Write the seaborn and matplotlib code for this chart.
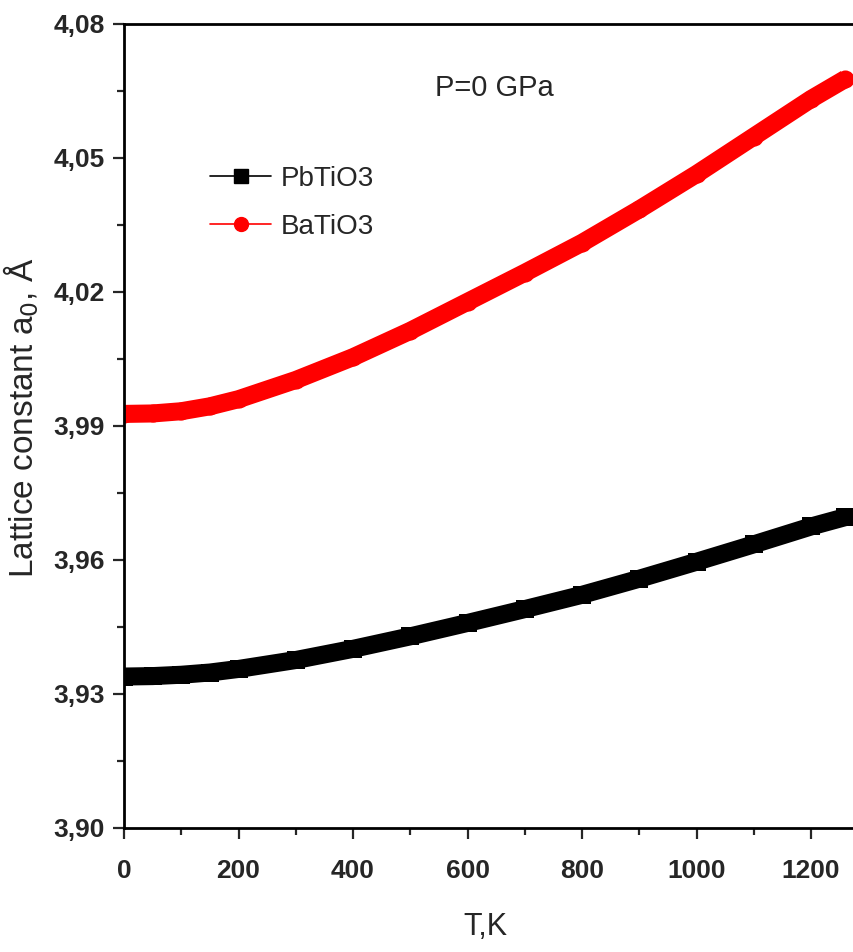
import matplotlib
matplotlib.use('Agg')
import matplotlib.pyplot as plt
from matplotlib.lines import Line2D
from matplotlib.ticker import MultipleLocator, FuncFormatter
import seaborn as sns
import pandas as pd

# Données
temperature = [0, 50, 100, 150, 200, 300, 400, 500, 600, 700, 800, 900, 1000, 1100, 1200, 1260]
a0_pbtio3 = [3.9339, 3.9340, 3.9343, 3.9348, 3.9356, 3.9376, 3.9401, 3.9429, 3.9459, 3.9490,
             3.9522, 3.9558, 3.9596, 3.9635, 3.9675, 3.9696]
a0_batio3 = [3.9927, 3.9928, 3.9933, 3.9944, 3.9960, 4.0003, 4.0054, 4.0113, 4.0178, 4.0243,
             4.0310, 4.0385, 4.0464, 4.0548, 4.0632, 4.0677]
series_names = ['PbTiO3', 'BaTiO3']
series_colors = ['black', 'red']
series_markers = ['s', 'o']

sns.set_style('ticks')
plt.rcParams['font.family'] = ['Liberation Sans', 'DejaVu Sans']

fig = plt.figure(figsize=(8.54, 9.52), dpi=100)
ax = fig.add_axes([0.1452, 0.1303, 0.8548, 0.8445])

df = pd.DataFrame({
    'T': temperature * 2,
    'a0': a0_pbtio3 + a0_batio3,
    'serie': [series_names[0]] * len(temperature) + [series_names[1]] * len(temperature),
})

for name, color, marker in zip(series_names, series_colors, series_markers):
    sub = df[df['serie'] == name]
    sns.lineplot(data=sub, x='T', y='a0', ax=ax, color=color, linewidth=13,
                 marker=marker, markersize=13, markeredgewidth=0,
                 solid_capstyle='butt', legend=False)

ax.set_xlim(0, 1275)
ax.set_ylim(3.90, 4.08)
ax.xaxis.set_major_locator(MultipleLocator(200))
ax.xaxis.set_minor_locator(MultipleLocator(100))
ax.yaxis.set_major_locator(MultipleLocator(0.03))
ax.yaxis.set_minor_locator(MultipleLocator(0.015))
ax.yaxis.set_major_formatter(FuncFormatter(lambda v, p: f'{v:.2f}'.replace('.', ',')))
ax.xaxis.set_major_formatter(FuncFormatter(lambda v, p: f'{v:.0f}'))

ax.tick_params(which='major', direction='out', length=8, width=1.6, labelsize=19)
ax.tick_params(which='minor', direction='out', length=5, width=1.6)
ax.tick_params(axis='x', which='major', pad=14)
ax.tick_params(axis='y', which='major', pad=6)
for lab in ax.get_xticklabels() + ax.get_yticklabels():
    lab.set_fontweight('bold')

for side in ['left', 'bottom', 'top']:
    ax.spines[side].set_linewidth(2)
    ax.spines[side].set_color('black')
ax.spines['right'].set_visible(False)

ax.set_xlabel('T,K', fontsize=22)
ax.xaxis.set_label_coords(0.495, -0.105)
ax.set_ylabel('Lattice constant a$_0$, Å', fontsize=24)
ax.yaxis.set_label_coords(-0.114, 0.51)

ax.text(0.508, 0.92, 'P=0 GPa', transform=ax.transAxes, ha='center', va='center', fontsize=21)

handles = [Line2D([0], [0], color=c, lw=1.2, marker=m, markersize=10)
           for c, m in zip(series_colors, series_markers)]
ax.legend(handles, series_names, loc='upper left', bbox_to_anchor=(0.084, 0.855),
          frameon=False, fontsize=20, handlelength=2.2, handletextpad=0.35, labelspacing=0.8)

fig.savefig('out.png', dpi=100)
